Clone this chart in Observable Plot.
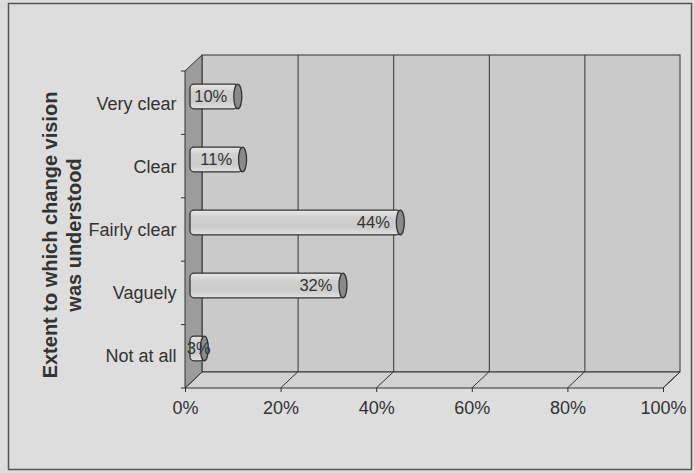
<!DOCTYPE html>
<html>
<head>
<meta charset="utf-8">
<script src="https://cdn.jsdelivr.net/npm/d3@7"></script>
<script src="https://cdn.jsdelivr.net/npm/@observablehq/plot@0.6"></script>
<style>
  html, body { margin: 0; padding: 0; background: #dddddd; }
  #chart svg { display: block; }
</style>
</head>
<body>
<div id="chart"></div>
<script>
// Survey responses: how clearly the change vision was understood
const categories = ["Very clear", "Clear", "Fairly clear", "Vaguely", "Not at all"];
const shares = [10, 11, 44, 32, 3];
const xTicks = [0, 20, 40, 60, 80, 100];
const gridTicks = [20, 40, 60, 80];
const axisTitle = "Extent to which change vision\nwas understood";

const rows = categories.map((category, i) => ({category, share: shares[i]}));

const ink = "#333333";
const font = "'Liberation Sans', Arial, Helvetica, sans-serif";

// 3D look: the back wall sits up and to the right of the front plane
const depthX = 17, depthY = -16;
// bars sit roughly half way into the depth
const barDX = 5, barDY = -7;
const barInset = 19.2;

// gradient used for the cylinder bodies
function shading() {
  const svg = d3.create("svg:g");
  const grad = svg.append("defs").append("linearGradient")
    .attr("id", "barShade").attr("x1", 0).attr("y1", 0).attr("x2", 0).attr("y2", 1);
  grad.append("stop").attr("offset", "0%").attr("stop-color", "#e8e8e8");
  grad.append("stop").attr("offset", "30%").attr("stop-color", "#d0d0d0");
  grad.append("stop").attr("offset", "70%").attr("stop-color", "#cbcbcb");
  grad.append("stop").attr("offset", "100%").attr("stop-color", "#e2e2e2");
  return svg.node();
}

// outer border of the chart area
function border(index, scales, values, dim) {
  const g = d3.create("svg:g");
  g.append("rect")
    .attr("x", 8.5).attr("y", 3.5)
    .attr("width", dim.width - 11).attr("height", dim.height - 7)
    .attr("fill", "none").attr("stroke", "#555").attr("stroke-width", 1.5);
  return g.node();
}

// back wall of the 3D box
function backWall(index, scales, values, dim) {
  const g = d3.create("svg:g");
  const x0 = scales.x(0), x1 = scales.x(100);
  const top = dim.marginTop, bottom = dim.height - dim.marginBottom;
  g.append("rect")
    .attr("x", x0 + depthX).attr("y", top + depthY)
    .attr("width", x1 - x0).attr("height", bottom - top)
    .attr("fill", "#cacaca").attr("stroke", ink);
  return g.node();
}

// floor, left side wall, floor tick diagonals and category ticks
function floorAndSide(index, scales, values, dim) {
  const g = d3.create("svg:g");
  const x0 = scales.x(0), x1 = scales.x(100);
  const top = dim.marginTop, bottom = dim.height - dim.marginBottom;
  g.append("path")
    .attr("d", `M${x0},${bottom}L${x1},${bottom}L${x1 + depthX},${bottom + depthY}L${x0 + depthX},${bottom + depthY}Z`)
    .attr("fill", "#d2d2d2").attr("stroke", ink);
  for (const t of xTicks) {
    const xt = scales.x(t);
    g.append("line")
      .attr("x1", xt).attr("y1", bottom)
      .attr("x2", xt + depthX).attr("y2", bottom + depthY)
      .attr("stroke", ink);
  }
  g.append("path")
    .attr("d", `M${x0},${top}L${x0 + depthX},${top + depthY}L${x0 + depthX},${bottom + depthY}L${x0},${bottom}Z`)
    .attr("fill", "#9c9c9c").attr("stroke", ink);
  const step = (bottom - top) / categories.length;
  for (let i = 0; i <= categories.length; i++) {
    g.append("line")
      .attr("x1", x0 - 4).attr("x2", x0)
      .attr("y1", top + i * step).attr("y2", top + i * step)
      .attr("stroke", ink);
  }
  return g.node();
}

const chart = Plot.plot({
  width: 694,
  height: 473,
  marginLeft: 185,
  marginRight: 31,
  marginTop: 71,
  marginBottom: 85,
  style: {
    background: "#dddddd",
    fontFamily: font,
    fontSize: "18px",
    color: ink
  },
  x: {
    domain: [0, 100],
    ticks: xTicks,
    tickFormat: d => d + "%",
    tickSize: 4,
    tickPadding: 9,
    label: null
  },
  y: {
    domain: categories,
    padding: 0,
    tickSize: 0,
    tickPadding: 9,
    label: null
  },
  marks: [
    shading,
    border,
    backWall,
    Plot.ruleX(gridTicks, {dx: depthX, dy: depthY, stroke: ink, strokeOpacity: 1}),
    floorAndSide,
    // cylinder bodies
    Plot.barX(rows, {
      x1: 0, x2: "share", y: "category",
      insetTop: barInset, insetBottom: barInset,
      dx: barDX, dy: barDY, rx: 4,
      fill: "url(#barShade)", stroke: ink, strokeWidth: 1.3
    }),
    // cylinder end caps
    Plot.barX(rows, {
      x1: "share", x2: "share", y: "category",
      insetTop: barInset, insetBottom: barInset,
      insetLeft: -4, insetRight: -4,
      dx: barDX, dy: barDY, rx: 4, ry: 12.5,
      fill: "#8a8a8a", stroke: ink, strokeWidth: 1.3
    }),
    // value labels
    Plot.text(rows, {
      x: d => Math.max(d.share, 6.5), y: "category",
      text: d => d.share + "%",
      textAnchor: "end",
      dx: barDX - 11, dy: barDY,
      fontSize: 16.5, fill: ink
    }),
    // axis title
    Plot.text([axisTitle], {
      frameAnchor: "left",
      textAnchor: "middle",
      dx: -124,
      dy: 5,
      rotate: -90,
      fontSize: 20,
      fontWeight: "bold",
      lineHeight: 1.2,
      fill: ink
    })
  ]
});

document.getElementById("chart").append(chart);
</script>
</body>
</html>
